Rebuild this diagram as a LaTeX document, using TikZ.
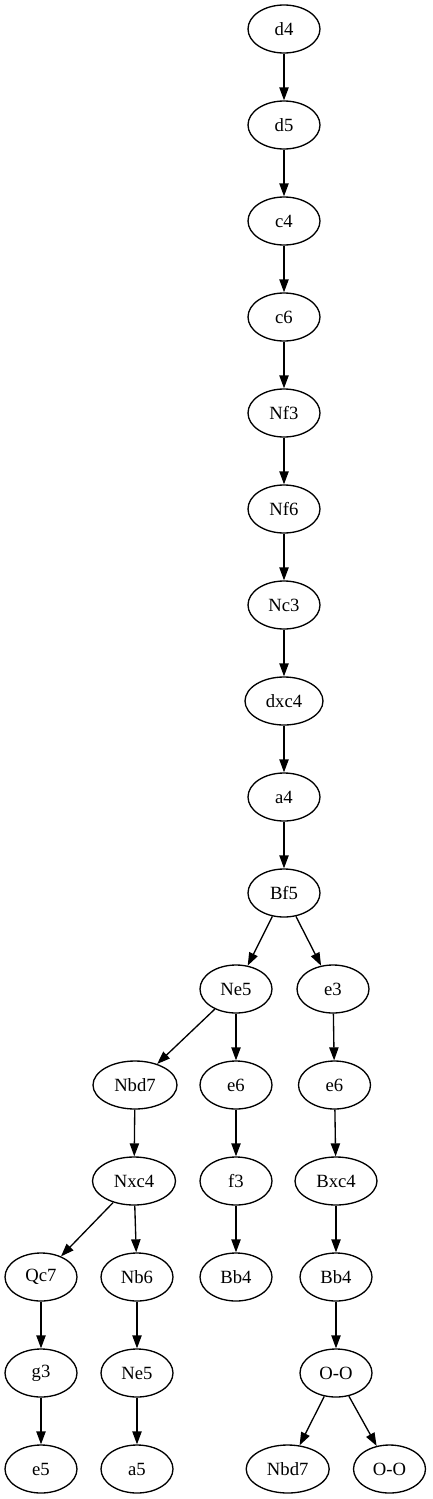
\documentclass[tikz,border=0pt]{standalone}
\usepackage{fontspec}
\setmainfont{Liberation Serif}
\usetikzlibrary{shapes.geometric,arrows.meta}
\tikzset{
  mv/.style={draw, ellipse, line width=1.33pt, minimum width=72pt, minimum height=48pt, inner sep=0pt, font=\fontsize{18.67}{20}\selectfont},
  edge/.style={line width=1.33pt, -{Triangle[length=13pt,width=9.3pt]}}
}
\begin{document}
\begin{tikzpicture}[x=1pt,y=-1pt]
\useasboundingbox (0,0) rectangle (432,1499);
\node[mv] (d4) at (284,29) {d4};
\node[mv] (d5) at (284,125) {d5};
\node[mv] (c4) at (284,221) {c4};
\node[mv] (c6) at (284,317) {c6};
\node[mv] (Nf3) at (284,413) {Nf3};
\node[mv] (Nf6) at (284,509) {Nf6};
\node[mv] (Nc3) at (284,605) {Nc3};
\node[mv, minimum width=78pt] (dxc4) at (284,701) {dxc4};
\node[mv] (a4) at (284,797) {a4};
\node[mv] (Bf5) at (284,893) {Bf5};
\node[mv] (Ne5a) at (236,989) {Ne5};
\node[mv] (e3) at (333,989) {e3};
\node[mv, minimum width=84pt] (Nbd7a) at (135,1085) {Nbd7};
\node[mv] (e6a) at (236,1085) {e6};
\node[mv] (e6b) at (334.5,1085) {e6};
\node[mv, minimum width=83pt] (Nxc4) at (134,1181) {Nxc4};
\node[mv] (f3) at (236,1181) {f3};
\node[mv, minimum width=82pt] (Bxc4) at (336,1181) {Bxc4};
\node[mv] (Qc7) at (41,1277) {Qc7};
\node[mv] (Nb6) at (137,1277) {Nb6};
\node[mv] (Bb4a) at (236,1277) {Bb4};
\node[mv] (Bb4b) at (336,1277) {Bb4};
\node[mv] (g3) at (41,1373) {g3};
\node[mv] (Ne5b) at (137,1373) {Ne5};
\node[mv] (OOa) at (336,1373) {O-O};
\node[mv] (e5) at (41,1469) {e5};
\node[mv] (a5) at (137,1469) {a5};
\node[mv, minimum width=83pt] (Nbd7b) at (287.7,1469) {Nbd7};
\node[mv] (OOb) at (389.5,1469) {O-O};
\foreach \a/\b in {d4/d5,d5/c4,c4/c6,c6/Nf3,Nf3/Nf6,Nf6/Nc3,Nc3/dxc4,dxc4/a4,a4/Bf5,
  Bf5/Ne5a,Bf5/e3,Ne5a/Nbd7a,Ne5a/e6a,e3/e6b,Nbd7a/Nxc4,e6a/f3,e6b/Bxc4,
  Nxc4/Qc7,Nxc4/Nb6,f3/Bb4a,Bxc4/Bb4b,Qc7/g3,Nb6/Ne5b,Bb4b/OOa,g3/e5,Ne5b/a5,OOa/Nbd7b,OOa/OOb}
  \draw[edge] (\a) -- (\b);
\end{tikzpicture}
\end{document}
